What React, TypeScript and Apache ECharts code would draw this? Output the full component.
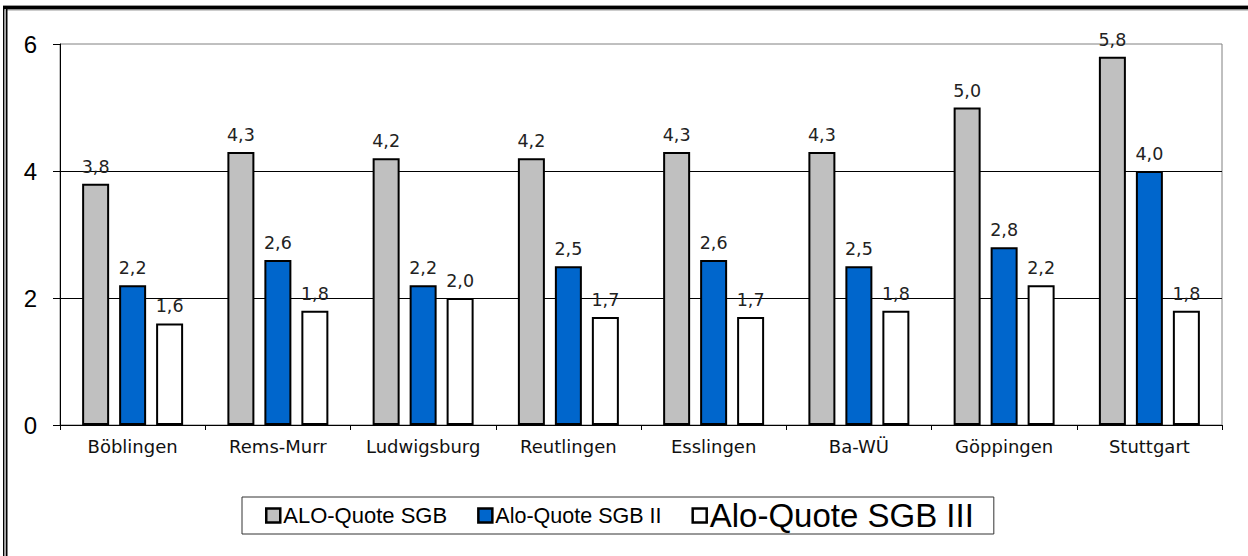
import React, { useEffect, useRef } from "react";
import * as echarts from "echarts";

const categories = ["Böblingen", "Rems-Murr", "Ludwigsburg", "Reutlingen", "Esslingen", "Ba-WÜ", "Göppingen", "Stuttgart"];
const seriesNames = ["ALO-Quote SGB", "Alo-Quote SGB II", "Alo-Quote SGB III"];
const aloSgb = [3.8, 4.3, 4.2, 4.2, 4.3, 4.3, 5.0, 5.8];
const aloSgbII = [2.2, 2.6, 2.2, 2.5, 2.6, 2.5, 2.8, 4.0];
const aloSgbIII = [1.6, 1.8, 2.0, 1.7, 1.7, 1.8, 2.2, 1.8];
const seriesColors = ["#C0C0C0", "#0066CC", "#FFFFFF"];
const yTicks = { min: 0, max: 6, interval: 2 };

export default function App() {
  const ref = useRef<HTMLDivElement>(null);
  useEffect(() => {
    if (!ref.current) return;
    const chart = echarts.init(ref.current, null, { renderer: "svg" });
    const fmt = (p: any) => Number(p.value).toFixed(1).replace(".", ",");
    const values = [aloSgb, aloSgbII, aloSgbIII];
    const series = values.map((data, i) => ({
      name: seriesNames[i],
      type: "bar",
      data,
      barWidth: 27,
      barGap: "37%",
      itemStyle: { color: seriesColors[i], borderColor: "#000", borderWidth: 2 },
      label: {
        show: true,
        position: "top",
        distance: 8,
        formatter: fmt,
        fontFamily: "DejaVu Sans",
        fontSize: 17.5,
        color: "#222",
      },
    }));
    const legendIcon = (i: number) => ({ color: seriesColors[i], borderColor: "#000", borderWidth: 2.5 });
    chart.setOption({
      animation: false,
      backgroundColor: "#fff",
      grid: {
        left: 60,
        right: 26,
        top: 44,
        bottom: 131,
        show: true,
        borderColor: "#808080",
        borderWidth: 1,
        backgroundColor: "transparent",
      },
      legend: {
        left: 242,
        top: 497,
        orient: "horizontal",
        itemWidth: 14,
        itemHeight: 14,
        itemGap: 30,
        icon: "rect",
        borderColor: "#333",
        borderWidth: 1,
        padding: [2, 20, 2, 23],
        itemStyle: { borderColor: "#000", borderWidth: 2.5 },
        textStyle: { fontFamily: "Liberation Sans", color: "#000", padding: [0, 0, 0, -2] },
        data: [
          { name: seriesNames[0], itemStyle: legendIcon(0), textStyle: { fontSize: 22, lineHeight: 29 } },
          { name: seriesNames[1], itemStyle: legendIcon(1), textStyle: { fontSize: 21.5, lineHeight: 29 } },
          { name: seriesNames[2], itemStyle: legendIcon(2), textStyle: { fontSize: 33, lineHeight: 29 } },
        ],
      },
      xAxis: {
        type: "category",
        data: categories,
        axisLine: { show: true, lineStyle: { color: "#000", width: 1 } },
        axisTick: { show: true, interval: 0, length: 5, lineStyle: { color: "#000" } },
        axisLabel: { interval: 0, fontFamily: "DejaVu Sans", fontSize: 18, color: "#111", margin: 12 },
        splitLine: { show: false },
      },
      yAxis: {
        type: "value",
        min: yTicks.min,
        max: yTicks.max,
        interval: yTicks.interval,
        axisLine: { show: true, lineStyle: { color: "#000", width: 1 } },
        axisTick: { show: true, length: 7, lineStyle: { color: "#000" } },
        axisLabel: { fontFamily: "Liberation Sans", fontSize: 24, color: "#000", margin: 23 },
        splitLine: { show: true, showMaxLine: false, lineStyle: { color: "#000", width: 1 } },
      },
      graphic: [
        { type: "rect", shape: { x: 3, y: 5, width: 1245, height: 1 }, style: { fill: "#999" }, silent: true },
        { type: "rect", shape: { x: 3, y: 6, width: 1245, height: 3.5 }, style: { fill: "#000" }, silent: true },
        { type: "rect", shape: { x: 3, y: 9.5, width: 1245, height: 1 }, style: { fill: "#999" }, silent: true },
        { type: "rect", shape: { x: 3, y: 6, width: 1.5, height: 550 }, style: { fill: "#000" }, silent: true },
        { type: "rect", shape: { x: 4.5, y: 9, width: 1.5, height: 547 }, style: { fill: "#aaa" }, silent: true },
        { type: "rect", shape: { x: 6, y: 9, width: 1.5, height: 547 }, style: { fill: "#000" }, silent: true },
      ],
      series,
    });
    return () => chart.dispose();
  }, []);
  return (
    <div
      ref={ref}
      style={{ position: "fixed", left: 0, top: 0, width: 1248, height: 556, background: "#fff" }}
    />
  );
}
